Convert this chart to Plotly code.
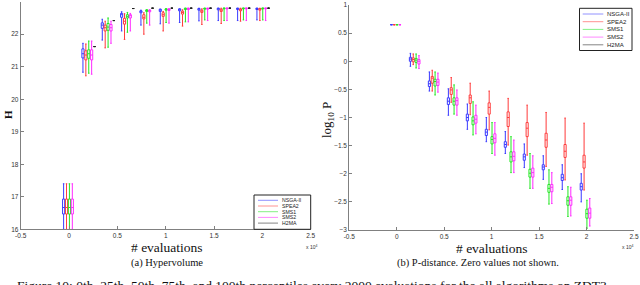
import plotly.graph_objects as go

W, H = 640, 285

evals = [0, 2000, 4000, 6000, 8000, 10000, 12000, 14000, 16000, 18000, 20000]
algorithms = ["NSGA-II", "SPEA2", "SMS1", "SMS2", "H2MA"]
colors = ["#3a3aff", "#ff3a3a", "#22e622", "#ff2aff", "#222222"]
x_tick_vals = [-5000, 0, 5000, 10000, 15000, 20000, 25000]
x_tick_text = ["-0.5", "0", "0.5", "1", "1.5", "2", "2.5"]

# Hypervolume: (min, q1, median, q3, max) per evaluation step
hv_nsga2 = [(16.0, 16.47, 16.67, 16.93, 17.40), (20.83, 21.27, 21.40, 21.55, 21.72),
            (21.82, 22.18, 22.28, 22.35, 22.46), (22.10, 22.52, 22.60, 22.64, 22.69),
            (22.28, 22.66, 22.70, 22.72, 22.74), (22.32, 22.70, 22.74, 22.77, 22.77),
            (22.36, 22.72, 22.76, 22.78, 22.78), (22.41, 22.74, 22.78, 22.79, 22.80),
            (22.42, 22.75, 22.79, 22.80, 22.80), (22.42, 22.76, 22.79, 22.80, 22.80),
            (22.44, 22.76, 22.79, 22.80, 22.80)]
hv_spea2 = [(16.0, 16.47, 16.67, 16.93, 17.40), (20.72, 21.21, 21.36, 21.49, 21.70),
            (21.58, 22.10, 22.20, 22.28, 22.40), (21.84, 22.31, 22.40, 22.49, 22.63),
            (22.00, 22.47, 22.52, 22.60, 22.66), (22.10, 22.55, 22.60, 22.66, 22.70),
            (22.25, 22.62, 22.67, 22.71, 22.75), (22.30, 22.67, 22.72, 22.74, 22.78),
            (22.33, 22.70, 22.74, 22.77, 22.80), (22.40, 22.72, 22.76, 22.78, 22.80),
            (22.42, 22.74, 22.78, 22.79, 22.80)]
hv_sms1 = [(16.0, 16.47, 16.67, 16.93, 17.40), (20.80, 21.26, 21.40, 21.52, 21.79),
           (21.60, 22.12, 22.22, 22.33, 22.50), (22.06, 22.50, 22.55, 22.60, 22.67),
           (22.34, 22.70, 22.73, 22.75, 22.75), (22.36, 22.74, 22.77, 22.78, 22.78),
           (22.38, 22.76, 22.78, 22.80, 22.80), (22.44, 22.77, 22.79, 22.80, 22.80),
           (22.42, 22.78, 22.80, 22.80, 22.80), (22.44, 22.78, 22.80, 22.80, 22.80),
           (22.44, 22.78, 22.80, 22.80, 22.80)]
hv_sms2 = [(16.0, 16.47, 16.67, 16.93, 17.40), (20.77, 21.21, 21.36, 21.52, 21.79),
           (21.72, 22.10, 22.20, 22.30, 22.40), (22.10, 22.50, 22.57, 22.60, 22.64),
           (22.28, 22.69, 22.72, 22.74, 22.75), (22.34, 22.73, 22.76, 22.78, 22.78),
           (22.38, 22.76, 22.78, 22.80, 22.80), (22.42, 22.77, 22.79, 22.80, 22.80),
           (22.42, 22.78, 22.80, 22.80, 22.80), (22.42, 22.78, 22.80, 22.80, 22.80),
           (22.42, 22.78, 22.80, 22.80, 22.80)]
hv_h2ma = [None, 21.62, 22.42, 22.79, 22.80, 22.80, 22.80, 22.80, 22.80, 22.80, 22.80]

# P-distance (log10): (min, q1, median, q3, max) per evaluation step
pd_nsga2 = [(0.65, 0.65, 0.65, 0.65, 0.65), (-0.09, 0.00, 0.04, 0.07, 0.14),
            (-0.53, -0.45, -0.40, -0.35, -0.19), (-0.96, -0.77, -0.71, -0.65, -0.49),
            (-1.21, -1.06, -1.00, -0.94, -0.76), (-1.43, -1.32, -1.26, -1.21, -1.00),
            (-1.64, -1.53, -1.48, -1.43, -1.25), (-1.89, -1.76, -1.70, -1.65, -1.47),
            (-2.10, -1.93, -1.88, -1.84, -1.68), (-2.28, -2.12, -2.07, -2.01, -1.84),
            (-2.50, -2.29, -2.23, -2.17, -2.00)]
pd_spea2 = [(0.65, 0.65, 0.65, 0.65, 0.65), (-0.06, -0.01, 0.03, 0.06, 0.13),
            (-0.53, -0.39, -0.30, -0.27, -0.16), (-0.73, -0.59, -0.51, -0.47, -0.29),
            (-0.95, -0.75, -0.65, -0.60, -0.39), (-1.22, -0.94, -0.82, -0.74, -0.53),
            (-1.49, -1.16, -1.00, -0.90, -0.66), (-1.67, -1.34, -1.19, -1.09, -0.78),
            (-1.87, -1.53, -1.40, -1.28, -0.91), (-2.11, -1.71, -1.60, -1.48, -1.01),
            (-2.29, -1.90, -1.79, -1.67, -1.10)]
pd_sms1 = [(0.65, 0.65, 0.65, 0.65, 0.65), (-0.12, -0.02, 0.02, 0.05, 0.13),
           (-0.60, -0.44, -0.36, -0.32, -0.19), (-0.94, -0.78, -0.71, -0.65, -0.42),
           (-1.31, -1.13, -1.06, -0.99, -0.72), (-1.64, -1.47, -1.39, -1.34, -1.09),
           (-1.98, -1.79, -1.70, -1.61, -1.34), (-2.26, -2.06, -1.99, -1.92, -1.64),
           (-2.54, -2.33, -2.26, -2.19, -1.93), (-2.76, -2.56, -2.48, -2.41, -2.23),
           (-2.97, -2.79, -2.71, -2.63, -2.47)]
pd_sms2 = [(0.65, 0.65, 0.65, 0.65, 0.65), (-0.13, -0.05, 0.00, 0.03, 0.10),
           (-0.55, -0.43, -0.37, -0.32, -0.21), (-0.96, -0.78, -0.70, -0.65, -0.51),
           (-1.29, -1.10, -1.03, -0.96, -0.78), (-1.67, -1.45, -1.37, -1.29, -1.09),
           (-1.98, -1.77, -1.69, -1.61, -1.40), (-2.26, -2.06, -1.98, -1.90, -1.68),
           (-2.53, -2.32, -2.24, -2.19, -1.98), (-2.75, -2.56, -2.47, -2.41, -2.24),
           (-2.93, -2.79, -2.70, -2.61, -2.44)]

# style: horizontal offset of each algorithm inside a group, box width (data units)
group_offsets = [-560, -260, 40, 340, 640]
box_width = 220

TICK_FONT = dict(family="Liberation Sans, Arial", size=6.5, color="#333333")
SERIF = "Liberation Serif, Times New Roman, serif"


def px(x):
    return x / W


def py(y):
    return 1 - y / H


fig = go.Figure()


def add_boxes(stats, k, xa, ya):
    xs, lo, q1, md, q3, hi = [], [], [], [], [], []
    for e, s in zip(evals, stats):
        if s is None:
            continue
        if not isinstance(s, tuple):
            s = (s, s, s, s, s)
        xs.append(e + group_offsets[k])
        lo.append(s[0]); q1.append(s[1]); md.append(s[2]); q3.append(s[3]); hi.append(s[4])
    fig.add_trace(go.Box(
        x=xs, lowerfence=lo, q1=q1, median=md, q3=q3, upperfence=hi,
        width=box_width, whiskerwidth=0.7, boxpoints=False,
        line=dict(color=colors[k], width=1), fillcolor="rgba(255,255,255,0)",
        name=algorithms[k], showlegend=False, hoverinfo="skip",
        xaxis=xa, yaxis=ya))


for k, stats in enumerate([hv_nsga2, hv_spea2, hv_sms1, hv_sms2, hv_h2ma]):
    add_boxes(stats, k, "x", "y")
for k, stats in enumerate([pd_nsga2, pd_spea2, pd_sms1, pd_sms2]):
    add_boxes(stats, k, "x2", "y2")

axis_common = dict(showgrid=False, zeroline=False, showline=True, linecolor="#808080",
                   linewidth=1, ticks="inside", ticklen=3, tickcolor="#808080",
                   tickfont=TICK_FONT, automargin=False, mirror=False)

fig.update_layout(
    width=W, height=H, margin=dict(l=0, r=0, t=0, b=0),
    paper_bgcolor="white", plot_bgcolor="white", boxmode="overlay",
    xaxis=dict(domain=[px(20.7), px(310.7)], range=[-5000, 25000],
               tickvals=x_tick_vals, ticktext=x_tick_text, anchor="y", **axis_common),
    yaxis=dict(domain=[py(229.3), py(1.7)], range=[16, 23], dtick=1, anchor="x",
               **axis_common),
    xaxis2=dict(domain=[px(349.3), px(634)], range=[-5000, 25000],
                tickvals=x_tick_vals, ticktext=x_tick_text, anchor="y2", **axis_common),
    yaxis2=dict(domain=[py(230), py(5)], range=[-3, 1], dtick=0.5, anchor="x2",
                **axis_common),
)

shapes = []
annotations = []


def add_legend(x0, x1, y0, y1, item_y, line_x0, line_x1, text_x, fsize):
    shapes.append(dict(type="rect", xref="paper", yref="paper",
                       x0=px(x0), x1=px(x1), y0=py(y1), y1=py(y0),
                       line=dict(color="#222222", width=1), fillcolor="white"))
    for i, name in enumerate(algorithms):
        yy = item_y[i]
        shapes.append(dict(type="line", xref="paper", yref="paper",
                           x0=px(line_x0), x1=px(line_x1), y0=py(yy), y1=py(yy),
                           line=dict(color=colors[i], width=1), opacity=0.55))
        annotations.append(dict(xref="paper", yref="paper", x=px(text_x), y=py(yy),
                                xanchor="left", yanchor="middle", showarrow=False,
                                text=name, font=dict(family="Liberation Sans, Arial",
                                                     size=fsize, color="#222222")))


add_legend(254, 310.7, 195, 229.3, [200.3, 206, 211.7, 217.4, 223.1], 258, 278, 279.5, 5.2)
add_legend(579.5, 632, 8.3, 50.5, [14, 21.7, 29.4, 37.1, 44.8], 582.7, 603.3, 604.5, 6)

texts = [
    (8, 115, "<b>H</b>", 11, -90, "center"),
    (327, 120, "log<sub>10</sub> P", 13, -90, "center"),
    (167, 247, "# evaluations", 13.5, 0, "center"),
    (492, 248, "# evaluations", 13.5, 0, "center"),
    (167, 263, "(a) Hypervolume", 10.5, 0, "center"),
    (478, 263, "(b) P-distance. Zero values not shown.", 10.5, 0, "center"),
]
for x, y, t, s, ang, anc in texts:
    annotations.append(dict(xref="paper", yref="paper", x=px(x), y=py(y), text=t,
                            showarrow=False, textangle=ang, xanchor=anc, yanchor="middle",
                            font=dict(family=SERIF, size=s, color="#111111")))

for x in (311, 627):
    annotations.append(dict(xref="paper", yref="paper", x=px(x), y=py(247),
                            text="x 10<sup>4</sup>", showarrow=False, xanchor="center",
                            yanchor="middle",
                            font=dict(family="Liberation Sans, Arial", size=5, color="#333")))

annotations.append(dict(xref="paper", yref="paper", x=px(15), y=py(276), xanchor="left",
                        yanchor="top", showarrow=False,
                        text="Figure 10: 0th, 25th, 50th, 75th, and 100th percentiles every "
                             "2000 evaluations for the all algorithms on ZDT3.",
                        font=dict(family=SERIF, size=13.5, color="#111111")))

fig.update_layout(shapes=shapes, annotations=annotations)
fig.write_html("out.html", config={"displayModeBar": False},
               post_script="document.body.style.margin='0px';"
                           "document.body.style.overflow='hidden';")
